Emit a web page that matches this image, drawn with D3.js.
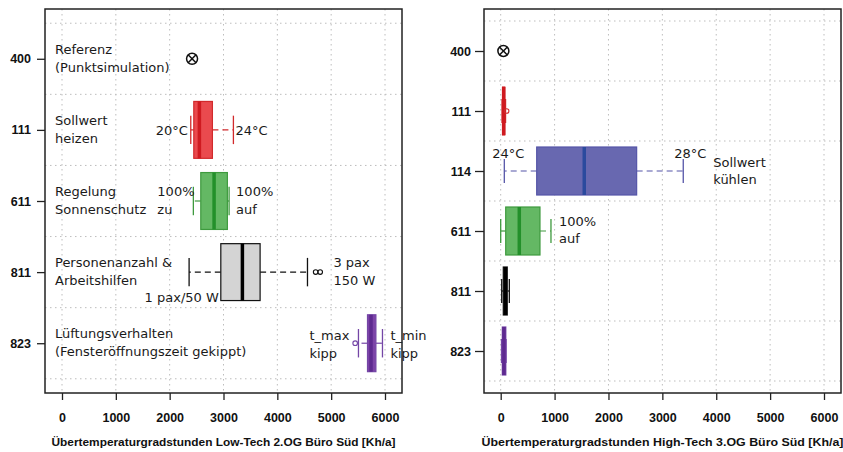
<!DOCTYPE html>
<html>
<head>
<meta charset="utf-8">
<script src="https://cdn.jsdelivr.net/npm/d3@7"></script>
<style>
  body { margin: 0; background: #fff; }
  svg { display: block; }
</style>
</head>
<body>
<div id="chart"></div>
<script>
// ---- data ----
const lowTechCodes = ["400", "111", "611", "811", "823"];
const highTechCodes = ["400", "111", "114", "611", "811", "823"];

// five-number summaries: [lower whisker, Q1, median, Q3, upper whisker]; null = single point
const lowTechStats = [
  null,
  [2392, 2448, 2552, 2794, 3184],
  [2440, 2578, 2825, 3072, 3104],
  [2361, 2950, 3351, 3680, 4560],
  [5507, 5675, 5740, 5831, 5953]
];
const highTechStats = [
  null,
  [25, 35, 55, 75, 90],
  [67, 668, 1551, 2523, 3388],
  [0, 93, 345, 729, 933],
  [19, 48, 85, 122, 160],
  [15, 30, 60, 95, 100]
];
const lowTechOutliers = [[], [], [], [4712, 4796], [5446]];
const highTechOutliers = [[], [110], [], [], [], []];
const lowTechReference = 2416;
const highTechReference = 50;

const xTicks = [0, 1000, 2000, 3000, 4000, 5000, 6000];

const lowTechLabels = [
  ["Referenz", "(Punktsimulation)"],
  ["Sollwert", "heizen"],
  ["Regelung", "Sonnenschutz"],
  ["Personenanzahl &", "Arbeitshilfen"],
  ["Lüftungsverhalten", "(Fensteröffnungszeit gekippt)"]
];

// colours per code
const boxStyle = {
  "111": { fill: "#ea4a4e", stroke: "#d12a2c", median: "#cf1a20" },
  "114": { fill: "#6868b0", stroke: "#5555a8", median: "#2b4a9e" },
  "611": { fill: "#64b864", stroke: "#3e9a3e", median: "#23902a" },
  "811": { fill: "#d4d4d4", stroke: "#111", median: "#000" },
  "823": { fill: "#7d44a8", stroke: "#7446a6", median: "#5e2a90" }
};

const W = 843, H = 452;
const svg = d3.select("#chart").append("svg")
  .attr("width", W).attr("height", H);

const fontLabel = "DejaVu Sans, Verdana, sans-serif";
const fontAxis = "Liberation Sans, Arial, sans-serif";

function drawPanel(opts) {
  const { left, right, top, bottom, x0, x6000, codes, stats, outliers, reference, title, titleWidth, tickSize, tickPad } = opts;
  const g = svg.append("g");

  const x = d3.scaleLinear().domain([0, 6000]).range([x0, x6000]);
  const n = codes.length;
  const y = d3.scaleLinear().domain([0.3, n + 0.7]).range([top, bottom]);
  const unit = y(2) - y(1);

  // grid
  const grid = g.append("g").attr("stroke", "#bdbdbd").attr("stroke-width", 1)
    .attr("stroke-dasharray", "1.5,3.5");
  xTicks.forEach(t => {
    grid.append("line").attr("x1", x(t)).attr("x2", x(t)).attr("y1", top).attr("y2", bottom);
  });
  d3.range(0.5, n + 1, 1).forEach(p => {
    grid.append("line").attr("x1", left).attr("x2", right).attr("y1", y(p)).attr("y2", y(p));
  });

  // boxes
  stats.forEach((s, i) => {
    const cy = y(i + 1);
    if (!s) {
      const cx = x(reference), r = 5.5, d = r * 0.72;
      const m = g.append("g").attr("stroke", "#111").attr("stroke-width", 1.5).attr("fill", "none");
      m.append("circle").attr("cx", cx).attr("cy", cy).attr("r", r);
      m.append("line").attr("x1", cx - d).attr("x2", cx + d).attr("y1", cy - d).attr("y2", cy + d);
      m.append("line").attr("x1", cx - d).attr("x2", cx + d).attr("y1", cy + d).attr("y2", cy - d);
      return;
    }
    const st = boxStyle[codes[i]];
    const [lo, q1, med, q3, hi] = s;
    const hb = unit * 0.4, hc = unit * 0.2;
    // whiskers
    g.append("line").attr("x1", x(q1)).attr("x2", x(lo)).attr("y1", cy).attr("y2", cy)
      .attr("stroke", st.stroke).attr("stroke-width", 1.2).attr("stroke-dasharray", "6,4");
    g.append("line").attr("x1", x(q3)).attr("x2", x(hi)).attr("y1", cy).attr("y2", cy)
      .attr("stroke", st.stroke).attr("stroke-width", 1.2).attr("stroke-dasharray", "6,4");
    [lo, hi].forEach(v => {
      g.append("line").attr("x1", x(v)).attr("x2", x(v)).attr("y1", cy - hc).attr("y2", cy + hc)
        .attr("stroke", st.stroke).attr("stroke-width", 1.3);
    });
    g.append("rect").attr("x", x(q1)).attr("y", cy - hb)
      .attr("width", Math.max(x(q3) - x(q1), 1)).attr("height", hb * 2)
      .attr("fill", st.fill).attr("stroke", st.stroke).attr("stroke-width", 1.2);
    g.append("line").attr("x1", x(med)).attr("x2", x(med)).attr("y1", cy - hb).attr("y2", cy + hb)
      .attr("stroke", st.median).attr("stroke-width", 3.5);
    outliers[i].forEach(v => {
      g.append("circle").attr("cx", x(v)).attr("cy", cy).attr("r", 2.3)
        .attr("fill", "none").attr("stroke", st.stroke).attr("stroke-width", 1.1);
    });
  });

  // frame
  g.append("rect").attr("x", left).attr("y", top).attr("width", right - left).attr("height", bottom - top)
    .attr("fill", "none").attr("stroke", "#222").attr("stroke-width", 1.5);

  // axes
  const xa = g.append("g").attr("transform", `translate(0,${bottom})`)
    .call(d3.axisBottom(x).tickValues(xTicks).tickFormat(d3.format("d")).tickSize(7).tickPadding(13));
  xa.select(".domain").remove();
  xa.selectAll("line").attr("stroke", "#222").attr("stroke-width", 1.3);
  xa.selectAll("text").attr("font-family", fontAxis).attr("font-weight", "bold")
    .attr("font-size", 12.5).attr("fill", "#111");

  const ya = g.append("g").attr("transform", `translate(${left},0)`)
    .call(d3.axisLeft(y).tickValues(d3.range(1, n + 1)).tickFormat(d => codes[d - 1])
      .tickSize(tickSize).tickPadding(tickPad));
  ya.select(".domain").remove();
  ya.selectAll("line").attr("stroke", "#222").attr("stroke-width", 1.3);
  ya.selectAll("text").attr("font-family", fontAxis).attr("font-weight", "bold")
    .attr("font-size", 12.5).attr("fill", "#111");

  g.append("text").attr("x", (left + right) / 2).attr("y", 446)
    .attr("text-anchor", "middle").attr("font-family", fontAxis).attr("font-weight", "bold")
    .attr("font-size", 11.5).attr("fill", "#111")
    .attr("textLength", titleWidth).attr("lengthAdjust", "spacingAndGlyphs")
    .text(title);

  return { g, x, y };
}

function label(g, x, y, txt, anchor) {
  g.append("text").attr("x", x).attr("y", y).attr("dy", "0.36em")
    .attr("text-anchor", anchor || "start")
    .attr("font-family", fontLabel).attr("font-size", 13).attr("fill", "#1a1a1a")
    .text(txt);
}

// ---- left panel ----
const L = drawPanel({
  left: 45, right: 402, top: 9, bottom: 393, x0: 62, x6000: 385,
  codes: lowTechCodes, stats: lowTechStats, outliers: lowTechOutliers,
  reference: lowTechReference, tickSize: 8, tickPad: 6, titleWidth: 344,
  title: "Übertemperaturgradstunden Low-Tech 2.OG Büro Süd [Kh/a]"
});
lowTechLabels.forEach((lines, i) => {
  const cy = L.y(i + 1);
  label(L.g, 55, cy - 9.5, lines[0]);
  label(L.g, 55, cy + 8.5, lines[1]);
});
{
  const x = L.x, y = L.y;
  const s1 = lowTechStats[1], s2 = lowTechStats[2], s3 = lowTechStats[3], s4 = lowTechStats[4];
  label(L.g, x(s1[0]) - 3, y(2), "20°C", "end");
  label(L.g, x(s1[4]) + 2, y(2), "24°C");
  label(L.g, x(s2[0]) - 36, y(3) - 10, "100%");
  label(L.g, x(s2[0]) - 36, y(3) + 8, "zu");
  label(L.g, x(s2[4]) + 7, y(3) - 10, "100%");
  label(L.g, x(s2[4]) + 7, y(3) + 8, "auf");
  label(L.g, x(s3[1]) - 2, y(4) + 25, "1 pax/50 W", "end");
  label(L.g, x(s3[4]) + 26, y(4) - 10, "3 pax");
  label(L.g, x(s3[4]) + 26, y(4) + 8, "150 W");
  label(L.g, x(s4[0]) - 49, y(5) - 8, "t_max");
  label(L.g, x(s4[0]) - 49, y(5) + 10, "kipp");
  label(L.g, x(s4[4]) + 8, y(5) - 8, "t_min");
  label(L.g, x(s4[4]) + 8, y(5) + 10, "kipp");
}

// ---- right panel ----
const R = drawPanel({
  left: 484, right: 841, top: 9, bottom: 393, x0: 500.7, x6000: 824,
  codes: highTechCodes, stats: highTechStats, outliers: highTechOutliers,
  reference: highTechReference, tickSize: 9, tickPad: 4, titleWidth: 362,
  title: "Übertemperaturgradstunden High-Tech 3.OG Büro Süd [Kh/a]"
});
{
  const x = R.x, y = R.y;
  const s2 = highTechStats[2], s3 = highTechStats[3];
  label(R.g, x(s2[0]) + 4, y(3) - 18, "24°C", "middle");
  label(R.g, x(s2[4]) + 7, y(3) - 18, "28°C", "middle");
  label(R.g, x(s2[4]) + 30, y(3) - 9, "Sollwert");
  label(R.g, x(s2[4]) + 30, y(3) + 8, "kühlen");
  label(R.g, x(s3[4]) + 8, y(4) - 10, "100%");
  label(R.g, x(s3[4]) + 8, y(4) + 7, "auf");
}
</script>
</body>
</html>
